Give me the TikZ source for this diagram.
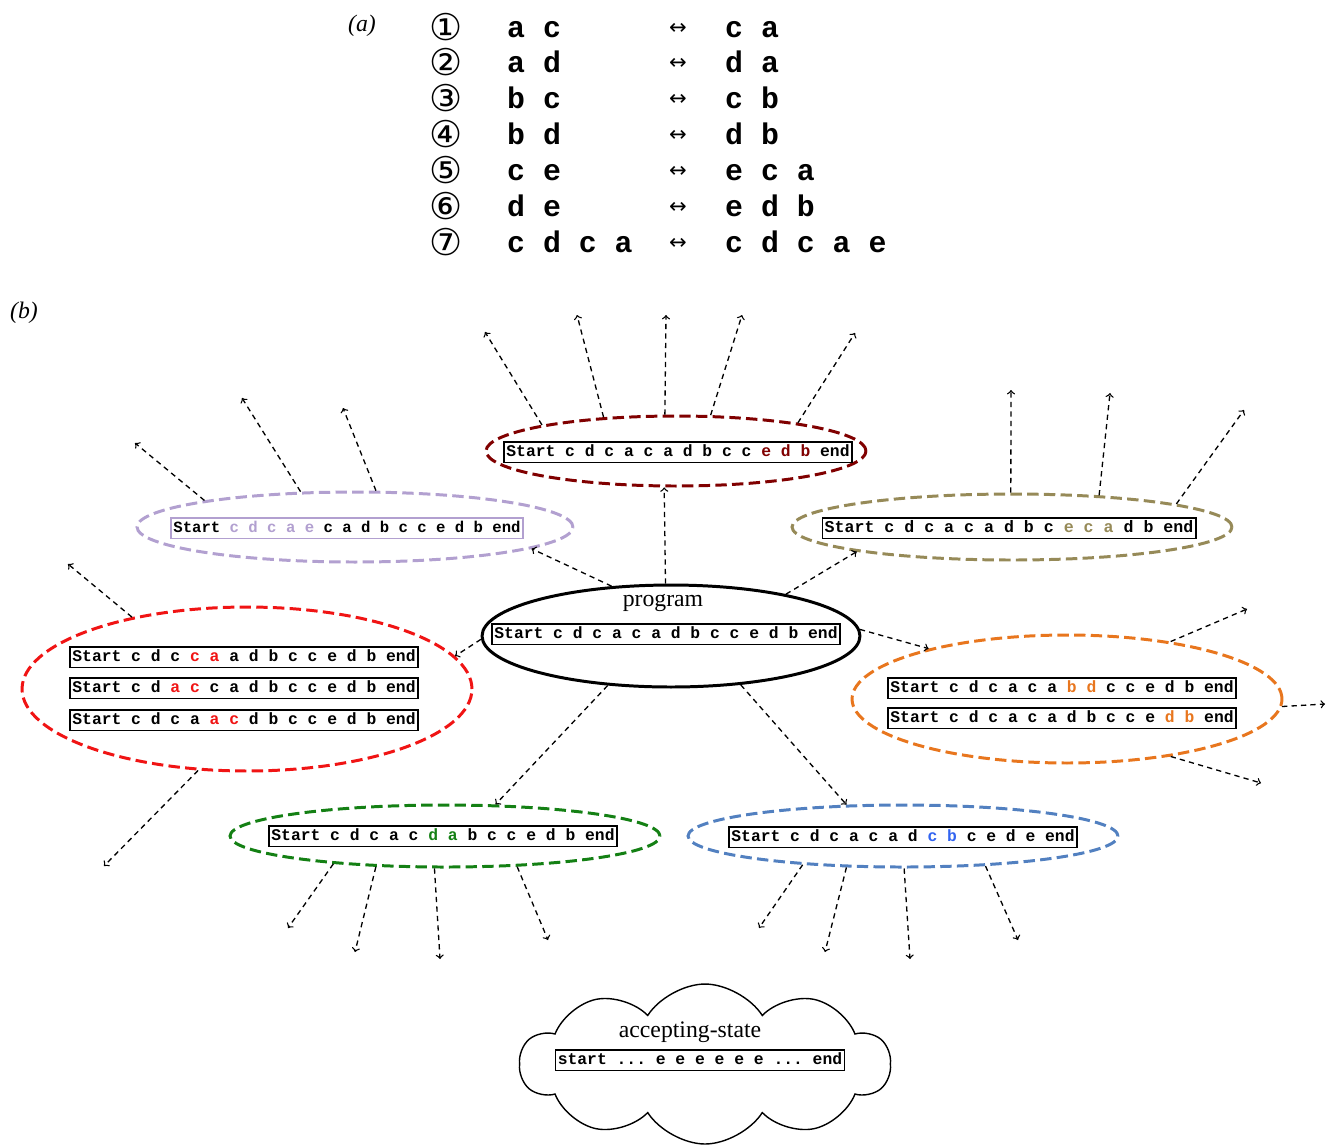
\documentclass[tikz,border=0pt]{standalone}
\usepackage{fontspec}
\setmainfont{Liberation Serif}
\setmonofont{Liberation Mono}
\newfontfamily\symfont{DejaVu Sans}
\usetikzlibrary{shapes.geometric,shapes.symbols}

\definecolor{ruleDarkRed}{RGB}{128,0,0}
\definecolor{ruleLav}{RGB}{178,160,208}
\definecolor{ruleOlive}{RGB}{150,138,88}
\definecolor{ruleRed}{RGB}{240,20,20}
\definecolor{ruleOrange}{RGB}{232,118,30}
\definecolor{ruleGreen}{RGB}{20,128,20}
\definecolor{ruleBlue}{RGB}{82,128,192}
\definecolor{ruleBlueTxt}{RGB}{50,100,240}

\begin{document}
\begin{tikzpicture}[x=0.02cm, y=-0.02cm,
  tape/.style={draw, line width=0.8pt, inner sep=1.4pt, text height=7.2pt, text depth=1.6pt,
    font=\fontsize{9.3}{11}\selectfont\ttfamily\bfseries},
  ring/.style={ellipse, draw, line width=1.7pt, dash pattern=on 6.5pt off 3pt, inner sep=0pt},
  flow/.style={->, >=to, line width=0.75pt, dash pattern=on 3pt off 2.4pt},
  caption/.style={font=\fontsize{13.5}{15}\selectfont},
  rulename/.style={anchor=base west, font=\fontsize{17}{19}\selectfont\ttfamily\bfseries},
  circnum/.style={inner sep=0pt, text height=13.5pt, text depth=1pt, font=\fontsize{21}{23}\selectfont\symfont},
  arrowsym/.style={font=\fontsize{12}{14}\selectfont\symfont}]
  \useasboundingbox (0,0) rectangle (1327,1147);

  % (a) rewriting rules
  \node[caption] (capA) at (362,26) {\textit{(a)}};
  \node[circnum] (n1) at (446,30) {①};
  \node[circnum] (n2) at (446,65) {②};
  \node[circnum] (n3) at (446,101) {③};
  \node[circnum] (n4) at (446,137) {④};
  \node[circnum] (n5) at (446,173) {⑤};
  \node[circnum] (n6) at (446,209) {⑥};
  \node[circnum] (n7) at (446,245) {⑦};
  \node[rulename] (l1) at (501,37.5) {a c};
  \node[rulename] (l2) at (501,72.5) {a d};
  \node[rulename] (l3) at (501,108.5) {b c};
  \node[rulename] (l4) at (501,144.5) {b d};
  \node[rulename] (l5) at (501,180.5) {c e};
  \node[rulename] (l6) at (501,216.5) {d e};
  \node[rulename] (l7) at (501,252.5) {c d c a};
  \node[arrowsym] (a1) at (678,29) {↔};
  \node[arrowsym] (a2) at (678,64) {↔};
  \node[arrowsym] (a3) at (678,100) {↔};
  \node[arrowsym] (a4) at (678,136) {↔};
  \node[arrowsym] (a5) at (678,172) {↔};
  \node[arrowsym] (a6) at (678,208) {↔};
  \node[arrowsym] (a7) at (678,244) {↔};
  \node[rulename] (r1) at (719,37.5) {c a};
  \node[rulename] (r2) at (719,72.5) {d a};
  \node[rulename] (r3) at (719,108.5) {c b};
  \node[rulename] (r4) at (719,144.5) {d b};
  \node[rulename] (r5) at (719,180.5) {e c a};
  \node[rulename] (r6) at (719,216.5) {e d b};
  \node[rulename] (r7) at (719,252.5) {c d c a e};

  % (b) search tree
  \node[caption] (capB) at (24,313) {\textit{(b)}};
  \node[ring, solid, draw=black, minimum width=7.56cm, minimum height=2.04cm] (prog) at (671,636) {};
  \node[caption] (progLbl) at (663,603) {program};
  \node[tape] (progTape) at (666,634) {Start c d c a c a d b c c e d b end};

  \node[ring, draw=ruleDarkRed, minimum width=7.6cm, minimum height=1.4cm] (nTop) at (676,451) {};
  \node[tape] (tTop) at (678,452) {Start c d c a c a d b c c \textcolor{ruleDarkRed}{e d b} end};

  \node[ring, draw=ruleLav, minimum width=8.72cm, minimum height=1.4cm] (nLav) at (355,527) {};
  \node[tape, draw=ruleLav, font=\fontsize{8.9}{11}\selectfont\ttfamily\bfseries] (tLav) at (347,528)
    {Start \textcolor{ruleLav}{c d c a e} c a d b c c e d b end};

  \node[ring, draw=ruleOlive, minimum width=8.8cm, minimum height=1.32cm] (nOlive) at (1012,527) {};
  \node[tape, font=\fontsize{9.45}{11}\selectfont\ttfamily\bfseries] (tOlive) at (1009,528)
    {Start c d c a c a d b c \textcolor{ruleOlive}{e c a} d b end};

  \node[ring, draw=ruleRed, minimum width=9cm, minimum height=3.28cm] (nRed) at (247,689) {};
  \node[tape] (tRedA) at (244,657) {Start c d c \textcolor{ruleRed}{c a} a d b c c e d b end};
  \node[tape] (tRedB) at (244,688) {Start c d \textcolor{ruleRed}{a c} c a d b c c e d b end};
  \node[tape] (tRedC) at (244,720) {Start c d c a \textcolor{ruleRed}{a c} d b c c e d b end};

  \node[ring, draw=ruleOrange, minimum width=8.6cm, minimum height=2.56cm] (nOrange) at (1067,699) {};
  \node[tape] (tOrangeA) at (1062,688) {Start c d c a c a \textcolor{ruleOrange}{b d} c c e d b end};
  \node[tape] (tOrangeB) at (1062,718) {Start c d c a c a d b c c e \textcolor{ruleOrange}{d b} end};

  \node[ring, draw=ruleGreen, minimum width=8.6cm, minimum height=1.24cm] (nGreen) at (445,836) {};
  \node[tape] (tGreen) at (443,836) {Start c d c a c \textcolor{ruleGreen}{d a} b c c e d b end};

  \node[ring, draw=ruleBlue, minimum width=8.6cm, minimum height=1.24cm] (nBlue) at (903,836) {};
  \node[tape] (tBlue) at (903,837) {Start c d c a c a d \textcolor{ruleBlueTxt}{c b} c e d e end};

  \node[cloud, draw, line width=0.8pt, cloud puffs=10, cloud puff arc=115, aspect=2.4,
    minimum width=7.4cm, minimum height=3.2cm] (accept) at (705,1064) {};
  \node[caption] (acceptLbl) at (690,1032) {accepting-state};
  \node[tape] (acceptTape) at (700,1060) {start ... e e e e e e ... end};

  % program to its successors
  \draw[flow] (prog.96) -- (nTop.252);
  \draw[flow] (prog.140) -- (nLav.-7);
  \draw[flow] (prog.20) -- (nOlive.189);
  \draw[flow] (prog.181) -- (nRed.9);
  \draw[flow] (prog.2) -- (nOrange.160);
  \draw[flow] (prog.218) -- (nGreen.32);
  \draw[flow] (prog.325) -- (nBlue.151);

  % further successors
  \coordinate (top1) at (485,332);
  \coordinate (top2) at (577,315);
  \coordinate (top3) at (666,315);
  \coordinate (top4) at (742,315);
  \coordinate (top5) at (855,333);
  \draw[flow] (nTop.169) -- (top1);
  \draw[flow] (nTop.155) -- (top2);
  \draw[flow] (nTop.107) -- (top3);
  \draw[flow] (nTop.46) -- (top4);
  \draw[flow] (nTop.13) -- (top5);

  \coordinate (lav1) at (135,443);
  \coordinate (lav2) at (242,398);
  \coordinate (lav3) at (343,408);
  \draw[flow] (nLav.170) -- (lav1);
  \draw[flow] (nLav.147) -- (lav2);
  \draw[flow] (nLav.60) -- (lav3);

  \coordinate (olive1) at (1011,390);
  \coordinate (olive2) at (1110,393);
  \coordinate (olive3) at (1244,410);
  \draw[flow] (nOlive.92) -- (olive1);
  \draw[flow] (nOlive.20) -- (olive2);
  \draw[flow] (nOlive.8.5) -- (olive3);

  \coordinate (red1) at (68,564);
  \coordinate (red2) at (104,866);
  \draw[flow] (nRed.148) -- (red1);
  \draw[flow] (nRed.239) -- (red2);

  \coordinate (orange1) at (1247,609);
  \coordinate (orange2) at (1325,704);
  \coordinate (orange3) at (1261,783);
  \draw[flow] (nOrange.29) -- (orange1);
  \draw[flow] (nOrange.-2) -- (orange2);
  \draw[flow] (nOrange.331) -- (orange3);

  \coordinate (green1) at (288,928);
  \coordinate (green2) at (355,952);
  \coordinate (green3) at (440,959);
  \coordinate (green4) at (548,940);
  \draw[flow] (nGreen.194) -- (green1);
  \draw[flow] (nGreen.204) -- (green2);
  \draw[flow] (nGreen.252) -- (green3);
  \draw[flow] (nGreen.337) -- (green4);

  \coordinate (blue1) at (759,928);
  \coordinate (blue2) at (825,952);
  \coordinate (blue3) at (910,959);
  \coordinate (blue4) at (1018,940);
  \draw[flow] (nBlue.196) -- (blue1);
  \draw[flow] (nBlue.209) -- (blue2);
  \draw[flow] (nBlue.272) -- (blue3);
  \draw[flow] (nBlue.340) -- (blue4);
\end{tikzpicture}
\end{document}
